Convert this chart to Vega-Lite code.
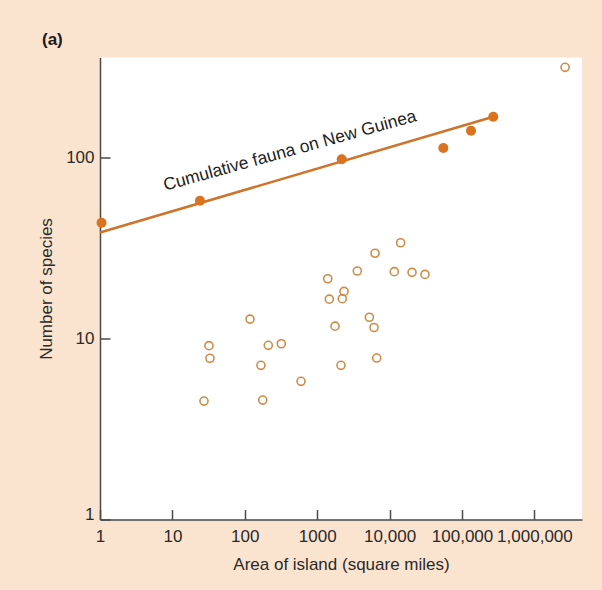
{
  "$schema": "https://vega.github.io/schema/vega-lite/v6.json",
  "autosize": "none",
  "width": 482,
  "height": 462,
  "padding": {"left": 100, "top": 57.5, "right": 20, "bottom": 70.5},
  "background": "#FBE4CF",
  "view": {"fill": "white", "stroke": null},
  "config": {
    "font": "Liberation Sans",
    "axis": {
      "grid": false,
      "domainColor": "#4a4a4a",
      "domainWidth": 1.5,
      "tickColor": "#4a4a4a",
      "tickWidth": 1.5,
      "tickSize": -10,
      "labelFontSize": 17,
      "labelColor": "#2a2a2a",
      "titleFontSize": 17,
      "titleFontWeight": "normal",
      "titleColor": "#2a2a2a",
      "labelOverlap": false,
      "labelFlush": false
    }
  },
  "title": {
    "text": "(a)",
    "anchor": "start",
    "frame": "group",
    "fontSize": 17,
    "fontWeight": "bold",
    "color": "#1a1a1a",
    "baseline": "alphabetic",
    "offset": 13,
    "dx": -58,
    "dy": 17
  },
  "datasets": {
    "line": [
      {"area": 1, "species": 38.5},
      {"area": 270000, "species": 168}
    ],
    "newguinea": [
      {"area": 1.05, "species": 43.6},
      {"area": 24, "species": 57.7},
      {"area": 2180, "species": 97.8},
      {"area": 55200, "species": 113},
      {"area": 133000, "species": 140.6},
      {"area": 270000, "species": 168}
    ],
    "islands": [
      {"area": 14200, "species": 33.8},
      {"area": 6290, "species": 29.6},
      {"area": 3580, "species": 23.6},
      {"area": 11600, "species": 23.4},
      {"area": 20400, "species": 23.2},
      {"area": 30800, "species": 22.6},
      {"area": 1397, "species": 21.4},
      {"area": 2345, "species": 18.2},
      {"area": 1470, "species": 16.5},
      {"area": 2220, "species": 16.6},
      {"area": 118, "species": 12.8},
      {"area": 5250, "species": 13.1},
      {"area": 1762, "species": 11.7},
      {"area": 6090, "species": 11.5},
      {"area": 32, "species": 9.13},
      {"area": 211, "species": 9.17},
      {"area": 319, "species": 9.36},
      {"area": 33, "species": 7.78},
      {"area": 167, "species": 7.11},
      {"area": 2130, "species": 7.11},
      {"area": 6630, "species": 7.8},
      {"area": 598, "species": 5.8},
      {"area": 27.3, "species": 4.51},
      {"area": 177, "species": 4.57},
      {"area": 2650000, "species": 315}
    ],
    "label": [
      {"area": 421, "species": 108.6, "text": "Cumulative fauna on New Guinea"}
    ]
  },
  "encoding": {
    "x": {
      "field": "area",
      "type": "quantitative",
      "scale": {"type": "log", "domain": [1, 4540000], "nice": false},
      "axis": {
        "title": "Area of island (square miles)",
        "values": [1, 10, 100, 1000, 10000, 100000, 1000000],
        "labelExpr": "datum.value == 1000 ? '1000' : format(datum.value, ',')",
        "labelPadding": 19,
        "titlePadding": 12
      }
    },
    "y": {
      "field": "species",
      "type": "quantitative",
      "scale": {"type": "log", "domain": [1, 357], "nice": false},
      "axis": {
        "title": "Number of species",
        "values": [1, 10, 100],
        "format": "d",
        "labelPadding": 16,
        "labelBaseline": {"condition": {"test": "datum.value === 1", "value": "alphabetic"}, "value": "middle"},
        "titlePadding": 10
      }
    }
  },
  "layer": [
    {
      "data": {"name": "line"},
      "mark": {"type": "line", "color": "#CF732A", "strokeWidth": 2.5}
    },
    {
      "data": {"name": "newguinea"},
      "mark": {"type": "circle", "color": "#DA721E", "opacity": 1, "size": 100}
    },
    {
      "data": {"name": "islands"},
      "mark": {"type": "point", "shape": "circle", "filled": false, "color": "#CE8B48", "strokeWidth": 1.6, "size": 65, "opacity": 1}
    },
    {
      "data": {"name": "label"},
      "mark": {"type": "text", "angle": -15.5, "align": "center", "baseline": "middle", "fontSize": 17.5, "color": "#1f1f1f"},
      "encoding": {"text": {"field": "text"}}
    }
  ]
}
